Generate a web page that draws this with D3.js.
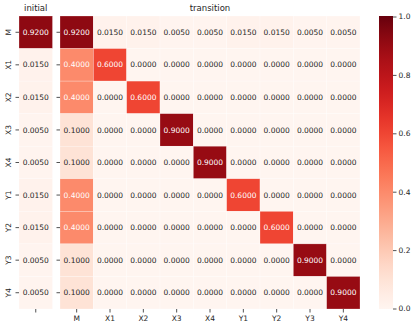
<!DOCTYPE html>
<html>
<head>
<meta charset="utf-8">
<script src="https://cdn.jsdelivr.net/npm/d3@7"></script>
<style>
  body { margin: 0; background: #fff; }
  svg { font-family: "DejaVu Sans", sans-serif; }
</style>
</head>
<body>
<div id="chart"></div>
<script>
// states of the chain
var states = ["M", "X1", "X2", "X3", "X4", "Y1", "Y2", "Y3", "Y4"];
var initial = [0.92, 0.015, 0.015, 0.005, 0.005, 0.015, 0.015, 0.005, 0.005];
var transition = [
  [0.92, 0.015, 0.015, 0.005, 0.005, 0.015, 0.015, 0.005, 0.005],
  [0.4, 0.6, 0, 0, 0, 0, 0, 0, 0],
  [0.4, 0, 0.6, 0, 0, 0, 0, 0, 0],
  [0.1, 0, 0, 0.9, 0, 0, 0, 0, 0],
  [0.1, 0, 0, 0, 0.9, 0, 0, 0, 0],
  [0.4, 0, 0, 0, 0, 0.6, 0, 0, 0],
  [0.4, 0, 0, 0, 0, 0, 0.6, 0, 0],
  [0.1, 0, 0, 0, 0, 0, 0, 0.9, 0],
  [0.1, 0, 0, 0, 0, 0, 0, 0, 0.9]
];
var cbarTicks = [0, 0.2, 0.4, 0.6, 0.8, 1.0];

var W = 416, H = 327;
var svg = d3.select("#chart").append("svg").attr("width", W).attr("height", H);

var plotTop = 16, plotBottom = 309;
var fs = 7.5;
var color = d3.scaleSequential(d3.interpolateReds).domain([0, 1]);

var y = d3.scaleBand().domain(states).range([plotTop, plotBottom]);
var xInit = d3.scaleBand().domain([""]).range([19, 52.5]);
var xTr = d3.scaleBand().domain(states).range([60, 360]);

// seaborn-style annotation colour from cell luminance
function textColor(v) {
  var c = d3.rgb(color(v));
  var lum = [c.r, c.g, c.b].map(function(ch) {
    ch = ch / 255;
    return ch <= 0.03928 ? ch / 12.92 : Math.pow((ch + 0.055) / 1.055, 2.4);
  });
  var L = 0.2126 * lum[0] + 0.7152 * lum[1] + 0.0722 * lum[2];
  return L > 0.408 ? "#262626" : "#fff";
}

// initial panel
var gi = svg.append("g");
gi.selectAll("rect")
  .data(initial)
  .enter().append("rect")
    .attr("x", xInit(""))
    .attr("y", function(d, i) { return y(states[i]); })
    .attr("width", xInit.bandwidth())
    .attr("height", y.bandwidth())
    .attr("fill", function(d) { return color(d); })
    .attr("stroke", "#fff").attr("stroke-width", 0.5).attr("stroke-opacity", 0.5);
gi.selectAll("text.val")
  .data(initial)
  .enter().append("text")
    .attr("class", "val")
    .attr("x", xInit("") + xInit.bandwidth() / 2)
    .attr("y", function(d, i) { return y(states[i]) + y.bandwidth() / 2; })
    .attr("dy", "0.35em")
    .attr("text-anchor", "middle")
    .attr("font-size", fs)
    .attr("fill", function(d) { return textColor(d); })
    .text(function(d) { return d.toFixed(4); });

// transition panel
var cells = [];
transition.forEach(function(row, i) {
  row.forEach(function(v, j) { cells.push({ r: states[i], c: states[j], v: v }); });
});
var gt = svg.append("g");
gt.selectAll("rect")
  .data(cells)
  .enter().append("rect")
    .attr("x", function(d) { return xTr(d.c); })
    .attr("y", function(d) { return y(d.r); })
    .attr("width", xTr.bandwidth())
    .attr("height", y.bandwidth())
    .attr("fill", function(d) { return color(d.v); })
    .attr("stroke", "#fff").attr("stroke-width", 0.5).attr("stroke-opacity", 0.5);
gt.selectAll("text.val")
  .data(cells)
  .enter().append("text")
    .attr("class", "val")
    .attr("x", function(d) { return xTr(d.c) + xTr.bandwidth() / 2; })
    .attr("y", function(d) { return y(d.r) + y.bandwidth() / 2; })
    .attr("dy", "0.35em")
    .attr("text-anchor", "middle")
    .attr("font-size", fs)
    .attr("fill", function(d) { return textColor(d.v); })
    .text(function(d) { return d.v.toFixed(4); });

// axes
function styleAxis(g) {
  g.select(".domain").remove();
  g.selectAll(".tick line").attr("stroke", "#262626").attr("stroke-width", 0.8);
  g.selectAll(".tick text").attr("fill", "#262626").attr("font-size", fs)
    .attr("font-family", "DejaVu Sans, sans-serif");
}
var yAxisI = svg.append("g").attr("transform", "translate(19,0)")
  .call(d3.axisLeft(y).tickSize(3.5).tickPadding(3)).call(styleAxis);
yAxisI.selectAll(".tick text")
  .attr("text-anchor", "middle")
  .attr("x", 0).attr("y", 0).attr("dy", "0.35em")
  .attr("transform", "translate(-11,0) rotate(-90)");
svg.append("g").attr("transform", "translate(60,0)")
  .call(d3.axisLeft(y).tickSize(3.5).tickFormat("")).call(styleAxis);
svg.append("g").attr("transform", "translate(0," + plotBottom + ")")
  .call(d3.axisBottom(xInit).tickSize(3.5)).call(styleAxis);
svg.append("g").attr("transform", "translate(0," + plotBottom + ")")
  .call(d3.axisBottom(xTr).tickSize(3.5).tickPadding(3)).call(styleAxis);

// titles
svg.append("text").attr("x", 35.75).attr("y", 11).attr("text-anchor", "middle")
  .attr("font-size", 8.5).attr("fill", "#262626").text("initial");
svg.append("text").attr("x", 210).attr("y", 11).attr("text-anchor", "middle")
  .attr("font-size", 8.5).attr("fill", "#262626").text("transition");

// colorbar
var cbX = 379, cbW = 14;
var defs = svg.append("defs");
var grad = defs.append("linearGradient").attr("id", "cb")
  .attr("x1", 0).attr("y1", 1).attr("x2", 0).attr("y2", 0);
d3.range(0, 1.0001, 0.05).forEach(function(t) {
  grad.append("stop").attr("offset", t).attr("stop-color", color(t));
});
svg.append("rect").attr("x", cbX).attr("y", plotTop).attr("width", cbW)
  .attr("height", plotBottom - plotTop).attr("fill", "url(#cb)");
var cy = d3.scaleLinear().domain([0, 1]).range([plotBottom - 0.5, plotTop + 0.5]);
svg.append("g").attr("transform", "translate(" + (cbX + cbW) + ",0)")
  .call(d3.axisRight(cy).tickValues(cbarTicks).tickFormat(d3.format(".1f")).tickSize(3.5).tickPadding(2))
  .call(styleAxis);
</script>
</body>
</html>
